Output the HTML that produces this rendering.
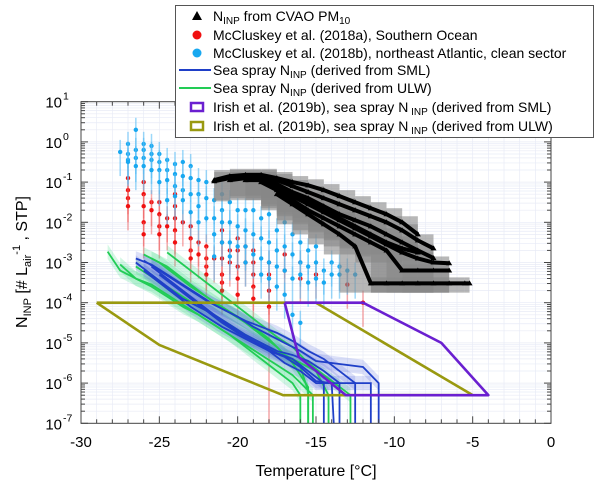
<!DOCTYPE html>
<html><head><meta charset="utf-8"><style>
body{margin:0;background:#fff}
svg{display:block;font-family:"Liberation Sans",Arial,sans-serif}
</style></head><body>
<svg id="chart" width="600" height="485" viewBox="0 0 600 485" xmlns="http://www.w3.org/2000/svg">
<defs><clipPath id="pc"><rect x="81" y="101.7" width="470" height="321.6"/></clipPath></defs>
<g id="grid"></g>
<g id="plot" clip-path="url(#pc)"></g>
<rect x="81" y="101.7" width="470" height="321.6" fill="none" stroke="#444" stroke-width="1"/>
<g id="axes"></g>
<text x="316" y="476" text-anchor="middle" font-size="16">Temperature [°C]</text>
<text transform="translate(27,262) rotate(-90)" text-anchor="middle" font-size="16">N<tspan font-size="11" dy="4">INP</tspan><tspan dy="-4"> [# L</tspan><tspan font-size="11" dy="4">air</tspan><tspan font-size="11" dy="-11">-1</tspan><tspan dy="7"> , STP]</tspan></text>
<g>
<rect x="175.5" y="5.5" width="418" height="132" fill="#fff" stroke="#555"/>
<g font-size="14">
<g><polygon points="197,11 192,20 202,20" fill="#000"/><text x="213" y="21">N<tspan font-size="10" dy="3">INP</tspan><tspan dy="-3"> from CVAO PM</tspan><tspan font-size="10" dy="3">10</tspan></text></g>
<g><circle cx="197" cy="35" r="4.5" fill="#f01010"/><text x="213" y="40">McCluskey et al. (2018a), Southern Ocean</text></g>
<g><circle cx="197" cy="53" r="4.5" fill="#18a8f0"/><text x="213" y="58">McCluskey et al. (2018b), northeast Atlantic, clean sector</text></g>
<g><line x1="179" y1="70" x2="211" y2="70" stroke="#1f3fc8" stroke-width="2"/><text x="213" y="75">Sea spray N<tspan font-size="10" dy="3">INP</tspan><tspan dy="-3"> (derived from SML)</tspan></text></g>
<g><line x1="179" y1="88" x2="211" y2="88" stroke="#22cc55" stroke-width="2"/><text x="213" y="93">Sea spray N<tspan font-size="10" dy="3">INP</tspan><tspan dy="-3"> (derived from ULW)</tspan></text></g>
<g><rect x="191" y="103" width="12" height="8" fill="none" stroke="#6a1fd0" stroke-width="2.5"/><text x="213" y="112">Irish et al. (2019b), sea spray N<tspan font-size="10" dy="3"> INP</tspan><tspan dy="-3"> (derived from SML)</tspan></text></g>
<g><rect x="191" y="122" width="12" height="8" fill="none" stroke="#999910" stroke-width="2.5"/><text x="213" y="131">Irish et al. (2019b), sea spray N<tspan font-size="10" dy="3"> INP</tspan><tspan dy="-3"> (derived from ULW)</tspan></text></g>
</g></g>
</svg>
<script>
// ---- data ----
const xTicks=[-30,-25,-20,-15,-10,-5,0];
const yTickExps=[1,0,-1,-2,-3,-4,-5,-6,-7];
const cvaoT=[-21.5,-20.5,-19.5,-18.5,-17.5,-16.5,-15.5,-14.5,-13.5,-12.5,-11.5,-10.5,-9.5,-8.5,-7.5,-6.5,-5.5,-5.2];
const cvao1=[-0.95,-0.85,-0.82,-0.82,-0.9,-1.0,-1.08,-1.2,-1.35,-1.5,-1.65,-1.8,-2.0,-2.3,null,null,null,null];
const cvao2=[-0.98,-0.9,-0.85,-0.85,-0.95,-1.1,-1.25,-1.4,-1.55,-1.7,-1.85,-2.0,-2.2,-2.45,-2.65,null,null,null];
const cvao3=[null,-0.95,-0.9,-0.9,-1.05,-1.25,-1.4,-1.6,-1.8,-1.95,-2.1,-2.3,-2.5,-2.7,-2.89,null,null,null];
const cvao4=[null,null,-0.95,-0.95,-1.15,-1.35,-1.55,-1.75,-1.95,-2.15,-2.35,-2.55,-2.75,-2.9,-3.0,-3.02,null,null];
const cvao5=[null,null,null,-1.0,-1.2,-1.45,-1.7,-1.9,-2.1,-2.3,-2.5,-2.7,-3.2,-3.2,-3.2,-3.2,null,null];
const cvao6=[null,null,null,null,-1.3,-1.55,-1.8,-2.05,-2.3,-2.6,-3.52,-3.52,-3.52,-3.52,-3.52,-3.52,-3.52,-3.52];
const cvao7=[null,null,-0.9,-0.95,-1.1,-1.3,-1.5,-1.7,-1.9,-2.1,-2.3,-2.5,-2.65,-2.75,null,null,null,null];
const blueT=[-27.5,-27,-27,-27,-27,-26.5,-26.5,-26.5,-26.5,-26,-26,-26,-26,-25.5,-25.5,-25.5,-25.5,-25,-25,-25,-25,-24.5,-24.5,-24.5,-24.5,-24,-24,-24,-24,-23.5,-23.5,-23.5,-23.5,-23,-23,-23,-23,-22.5,-22.5,-22.5,-22.5,-22,-22,-22,-21.5,-21.5,-21.5,-21.5,-21,-21,-21,-21,-20.5,-20.5,-20.5,-20.5,-20,-20,-20,-19.5,-19.5,-19.5,-19.5,-19,-19,-19,-18.5,-18.5,-18.5,-18.5,-18,-18,-18,-18,-17.5,-17.5,-17.5,-17.5,-17,-17,-17,-17,-16.5,-16.5,-16.5,-16.5,-16,-16,-16,-16,-15.5,-15.5,-15.5,-15,-15,-15,-14.5,-14.5,-14,-14,-13.5,-13.5,-13,-12.5];
const blueV=[-0.25,-0.05,-0.3,-0.45,-0.5,0.3,-0.2,-0.4,-0.6,-0.05,-0.2,-0.4,-0.6,-0.1,-0.3,-0.45,-0.7,-0.3,-0.5,-0.7,-1.0,-0.45,-0.7,-0.95,-1.45,-0.55,-0.8,-1.1,-1.35,-0.5,-0.85,-1.2,-1.45,-0.6,-0.9,-1.3,-1.75,-0.95,-1.3,-1.6,-2.0,-1.0,-1.4,-1.9,-1.45,-1.9,-2.3,-2.85,-1.3,-1.7,-2.0,-2.5,-1.5,-2.0,-2.5,-2.85,-1.7,-2.1,-2.6,-1.7,-2.2,-2.6,-3.0,-1.7,-2.3,-2.8,-1.9,-2.4,-2.9,-3.3,-1.8,-2.5,-3.0,-3.4,-2.2,-2.7,-3.1,-3.6,-2.0,-2.6,-3.2,-3.8,-2.3,-2.8,-3.4,-4.3,-2.5,-3.0,-3.3,-4.5,-2.7,-3.1,-3.5,-2.6,-3.0,-3.4,-3.2,-3.5,-3.0,-3.3,-3.1,-3.3,-3.2,-3.3];
const redT=[-27,-27,-27,-27,-26,-26,-26,-26,-26,-25.5,-25.5,-25,-25,-25,-25,-24.5,-24.5,-24,-24,-24,-24,-24,-23.5,-23,-23,-23,-23,-22.5,-22.5,-22,-22,-22,-22,-21.5,-21,-21,-21,-21,-21,-21,-20.5,-20.5,-20,-20,-20,-20,-20,-19.5,-19.5,-19,-19,-19,-19,-19,-18,-18,-18,-18,-17,-17,-16,-16,-15,-13,-12];
const redV=[-0.9,-1.2,-1.4,-1.6,-1.0,-1.3,-1.6,-2.0,-2.3,-1.5,-1.7,-1.5,-1.8,-2.1,-2.3,-1.9,-2.1,-1.3,-1.6,-1.9,-2.2,-2.5,-2.0,-2.1,-2.4,-2.7,-2.9,-2.5,-2.8,-2.6,-2.9,-3.1,-3.3,-2.9,-2.2,-2.5,-2.9,-3.3,-3.5,-3.7,-2.7,-3.0,-2.4,-2.7,-3.1,-3.4,-3.8,-2.6,-3.0,-2.7,-3.0,-3.3,-3.6,-3.9,-3.0,-3.3,-3.7,-4.1,-2.8,-3.2,-3.0,-3.4,-3.3,-3.55,-4.0];
const sml1T=[-26.5,-25.5,-24.5,-23.5,-22.5,-21.5,-20.5,-19.5,-18.5,-17.5,-16.5,-15.5,-14.5,-13.5,-12.5,-11.5,-11.5];
const sml1V=[-2.9,-3.05,-3.3,-3.55,-3.8,-4.05,-4.25,-4.45,-4.6,-4.75,-4.95,-5.2,-5.4,-5.7,-6.0,-6.0,-7.5];
const sml2T=[-26.5,-25.5,-24.5,-23.5,-22.5,-21.5,-20.5,-19.5,-18.5,-17.5,-16.5,-15.5,-14.5,-13.5,-12.5,-12.5];
const sml2V=[-3.0,-3.3,-3.6,-3.9,-4.1,-4.3,-4.55,-4.8,-5.0,-5.2,-5.3,-5.45,-5.7,-6.0,-6.0,-7.5];
const sml3T=[-25.5,-24.5,-23.5,-22.5,-21.5,-20.5,-19.5,-18.5,-17.5,-16.5,-15.5,-14.5,-13.5,-13.5];
const sml3V=[-3.1,-3.4,-3.7,-4.0,-4.3,-4.6,-4.85,-5.05,-5.25,-5.4,-5.7,-6.0,-6.0,-7.5];
const sml4T=[-26,-25,-24,-23,-22,-21,-20,-19,-18,-17,-16,-15,-14,-13.8];
const sml4V=[-3.2,-3.5,-3.8,-4.1,-4.35,-4.6,-4.8,-5.0,-5.2,-5.35,-5.6,-5.95,-6.0,-7.5];
const sml5T=[-25,-24,-23,-22,-21,-20,-19,-18,-17,-16,-15,-14.5,-14.5];
const sml5V=[-3.3,-3.6,-3.9,-4.2,-4.5,-4.75,-4.95,-5.2,-5.5,-5.7,-6.0,-6.0,-7.5];
const sml6T=[-26,-25,-24,-23,-22,-21,-20,-19,-18,-17,-16,-15,-12,-11,-11];
const sml6V=[-2.95,-3.2,-3.45,-3.7,-3.95,-4.15,-4.35,-4.6,-4.8,-5.0,-5.2,-5.45,-5.6,-6.0,-7.5];
const ulw1T=[-28.3,-27.5,-26.5,-25.5,-24.5,-23.5,-22.5,-21.5,-20.5,-19.5,-18.5,-17.5,-16.5,-16,-16];
const ulw1V=[-2.73,-3.2,-3.4,-3.55,-3.8,-4.05,-4.3,-4.55,-4.8,-5.1,-5.4,-5.7,-6.0,-6.3,-7.5];
const ulw2T=[-26,-25,-24,-23,-22,-21,-20,-19,-18,-17,-16,-15.5,-15.5];
const ulw2V=[-2.8,-3.0,-3.3,-3.6,-3.85,-4.1,-4.35,-4.6,-4.9,-5.3,-5.6,-6.2,-7.5];
const ulw3T=[-25.5,-24.5,-23.5,-22.5,-21.5,-20.5,-19.5,-18.5,-17.5,-16.5,-15.5,-15.5];
const ulw3V=[-2.9,-3.1,-3.4,-3.7,-4.0,-4.25,-4.5,-4.8,-5.1,-5.5,-6.1,-7.5];
const ulw4T=[-26.5,-25.5,-24.5,-23.5,-22.5,-21.5,-20.5,-19.5,-18.5,-17.5,-16.5,-15,-14.2,-14.2];
const ulw4V=[-3.1,-3.35,-3.6,-3.85,-4.1,-4.3,-4.55,-4.8,-5.0,-5.2,-5.4,-5.7,-6.3,-7.5];
const ulw5T=[-24.5,-23.5,-22.5,-21.5,-20.5,-19.5,-18.5,-17.5,-16.5,-15.5,-12.8,-12.8];
const ulw5V=[-2.75,-3.05,-3.35,-3.65,-3.95,-4.25,-4.55,-4.85,-5.1,-5.5,-6.3,-7.5];
const ulw6T=[-27.5,-26.5,-25.5,-24.5,-23.5,-22.5,-21.5,-20.5,-19.5,-18.5,-17.5,-16.5,-15.2,-15.2];
const ulw6V=[-3.05,-3.4,-3.6,-3.85,-4.1,-4.3,-4.55,-4.8,-5.05,-5.3,-5.55,-5.8,-6.3,-7.5];
const irishUlwT=[-29,-15,-5,-17.1,-25,-29];
const irishUlwV=[-4,-4,-6.3,-6.3,-5.05,-4];
const irishSmlT=[-17,-12,-7,-4,-13.1,-16.1,-17];
const irishSmlV=[-4,-4,-5,-6.3,-6.3,-5.35,-4];

// ---- scales ----
const X=t=>81+(t+30)*15.667;
const Y=l=>101.7+(1-l)*40.2;
const NS="http://www.w3.org/2000/svg";
function mk(tag,attrs,parent){const e=document.createElementNS(NS,tag);for(const k in attrs)e.setAttribute(k,attrs[k]);parent.appendChild(e);return e;}
const grid=document.getElementById('grid'),plot=document.getElementById('plot'),axes=document.getElementById('axes');

for(let t=-30;t<=0;t++){const g=mk('line',{x1:X(t),x2:X(t),y1:101.7,y2:423.3,stroke:'#e8ebf6','stroke-width':0.7},grid);

}
for(let e=-7;e<1;e++)for(let m=1;m<10;m++){const l=e+Math.log10(m);const g=mk('line',{x1:81,x2:551,y1:Y(l),y2:Y(l),stroke:'#e8ebf6','stroke-width':0.7},grid);

}

for(let t=-30;t<=0;t++){const major=t%5===0,len=major?7:4;
[[423.3,423.3-len],[101.7,101.7+len]].forEach(([a,b])=>{const tk=mk('line',{x1:X(t),x2:X(t),y1:a,y2:b,stroke:'#444','stroke-width':1},axes);

});}
xTicks.forEach(t=>{const tx=mk('text',{x:X(t),y:447,'text-anchor':'middle','font-size':15},axes);tx.textContent=t;

});
for(let e=-7;e<=1;e++){for(let m=1;m<10;m++){if(e===1&&m>1)break;const l=e+Math.log10(m),len=m===1?7:4;
[[81,81+len],[551,551-len]].forEach(([a,b])=>{const tk=mk('line',{x1:a,x2:b,y1:Y(l),y2:Y(l),stroke:'#444','stroke-width':1},axes);

});}}
yTickExps.forEach(e=>{const tx=mk('text',{x:62,y:Y(e)+6,'text-anchor':'end','font-size':15},axes);tx.textContent='10';


const sp=mk('text',{x:63,y:Y(e)-2,'font-size':10.5},axes);sp.textContent=e;

});

function poly(T,V,color,name){const p=mk('polyline',{points:T.map((t,i)=>X(t)+','+Y(V[i])).join(' '),fill:'none',stroke:color,'stroke-width':2.6,'stroke-linejoin':'round'},plot);

}

function dots(T,V,col,ecol,name){T.forEach((t,i)=>{const v=V[i];
const eb=mk('line',{x1:X(t),x2:X(t),y1:Y(v+0.3),y2:Y(v-0.6),stroke:ecol,'stroke-width':1.5},plot);


const c=mk('circle',{cx:X(t),cy:Y(v),r:2.2,fill:col},plot);

});}
dots(redT,redV,'#f01010','rgba(240,100,100,0.55)','mccluskey-a');
dots(blueT,blueV,'#18a8f0','rgba(90,190,245,0.6)','mccluskey-b');
{const eb=mk('line',{x1:X(-18),x2:X(-18),y1:Y(-4.1),y2:Y(-7.2),stroke:'rgba(240,100,100,0.55)','stroke-width':1.5},plot);

}

const cvaoSeries=[cvao1,cvao2,cvao3,cvao4,cvao5,cvao6,cvao7];
cvaoSeries.forEach((S,si)=>{for(let i=0;i<cvaoT.length-1;i++){if(S[i]==null||S[i+1]==null)continue;
const lo=Math.min(S[i],S[i+1]),hi=Math.max(S[i],S[i+1]);const low=lo<-2.5?-3.75:lo-0.5;
const r=mk('rect',{x:X(cvaoT[i]),y:Y(hi+0.15),width:X(cvaoT[i+1])-X(cvaoT[i]),height:Y(low)-Y(hi+0.15),fill:'rgba(135,135,135,0.6)'},plot);

}});
cvaoSeries.forEach((S,si)=>{const pts=[];cvaoT.forEach((t,i)=>{if(S[i]!=null)pts.push(X(t)+','+Y(S[i]));});
const pl=mk('polyline',{points:pts.join(' '),fill:'none',stroke:'#000','stroke-width':4},plot);


cvaoT.forEach((t,i)=>{if(S[i]==null)return;const x=X(t),y=Y(S[i]);
const m=mk('polygon',{points:`${x},${y-3} ${x-3},${y+2} ${x+3},${y+2}`,fill:'#000'},plot);

});});

const smlSeries=[[sml1T,sml1V],[sml2T,sml2V],[sml3T,sml3V],[sml4T,sml4V],[sml5T,sml5V],[sml6T,sml6V]];
const ulwSeries=[[ulw1T,ulw1V],[ulw2T,ulw2V],[ulw3T,ulw3V],[ulw4T,ulw4V],[ulw5T,ulw5V],[ulw6T,ulw6V]];
function band(T,V,fill,name){const up=T.map((t,i)=>X(t)+','+Y(V[i]+0.18)),dn=T.map((t,i)=>X(t)+','+Y(V[i]-0.18)).reverse();
const p=mk('polygon',{points:up.concat(dn).join(' '),fill:fill},plot);

}
function line(T,V,col,name){const p=mk('polyline',{points:T.map((t,i)=>X(t)+','+Y(V[i])).join(' '),fill:'none',stroke:col,'stroke-width':1.8},plot);

}
ulwSeries.forEach(([T,V])=>band(T,V,'rgba(60,220,130,0.22)','ulw-uncertainty-band'));
smlSeries.forEach(([T,V])=>band(T,V,'rgba(80,100,220,0.2)','sml-uncertainty-band'));
ulwSeries.forEach(([T,V],i)=>line(T,V,'#22cc55','ulw-series-'+(i+1)));
smlSeries.forEach(([T,V],i)=>line(T,V,'#1f3fc8','sml-series-'+(i+1)));

poly(irishUlwT,irishUlwV,'#999910','irish-ulw-range');
poly(irishSmlT,irishSmlV,'#6a1fd0','irish-sml-range');
</script>
</body></html>
